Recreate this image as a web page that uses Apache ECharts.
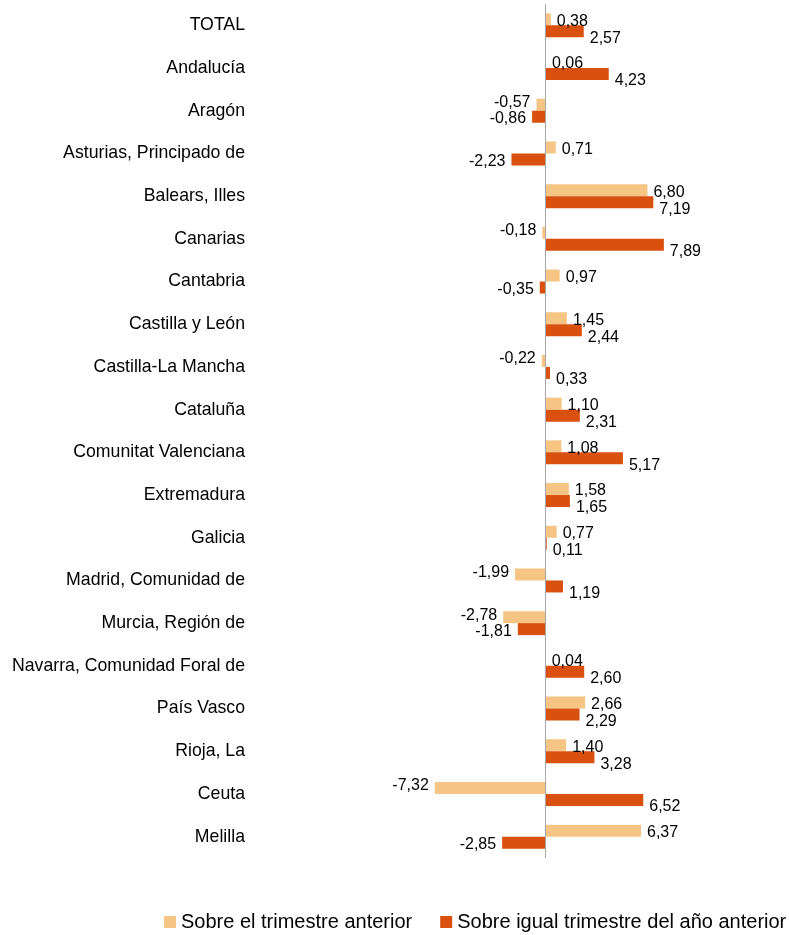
<!DOCTYPE html>
<html>
<head>
<meta charset="utf-8">
<script src="https://cdn.jsdelivr.net/npm/echarts@6/dist/echarts.min.js"></script>
<style>
  html, body { margin: 0; padding: 0; background: #fff; }
  #chart { width: 789px; height: 935px; }
</style>
</head>
<body>
<div id="chart"></div>
<script>
// categorías (de arriba abajo)
var regiones = ["TOTAL", "Andalucía", "Aragón", "Asturias, Principado de", "Balears, Illes", "Canarias",
    "Cantabria", "Castilla y León", "Castilla-La Mancha", "Cataluña", "Comunitat Valenciana",
    "Extremadura", "Galicia", "Madrid, Comunidad de", "Murcia, Región de",
    "Navarra, Comunidad Foral de", "País Vasco", "Rioja, La", "Ceuta", "Melilla"];
// variación sobre el trimestre anterior
var trimAnterior = [0.38, 0.06, -0.57, 0.71, 6.80, -0.18, 0.97, 1.45, -0.22, 1.10,
    1.08, 1.58, 0.77, -1.99, -2.78, 0.04, 2.66, 1.40, -7.32, 6.37];
// variación sobre igual trimestre del año anterior
var anioAnterior = [2.57, 4.23, -0.86, -2.23, 7.19, 7.89, -0.35, 2.44, 0.33, 2.31,
    5.17, 1.65, 0.11, 1.19, -1.81, 2.60, 2.29, 3.28, 6.52, -2.85];
var nombres = ["Sobre el trimestre anterior", "Sobre igual trimestre del año anterior"];

var colores = ["#F6C584", "#D9500F"];

function fmt(v) {
    return v.toFixed(2).replace(".", ",");
}

// etiquetas a derecha si positivo, a izquierda si negativo
function items(list, dyPos, dyNeg) {
    return list.map(function(v) {
        return {
            value: v,
            label: {
                position: v >= 0 ? "right" : "left",
                offset: [0, v >= 0 ? dyPos : dyNeg]
            }
        };
    });
}

var chart = echarts.init(document.getElementById("chart"));
chart.setOption({
    animation: false,
    color: colores,
    grid: {
        left: 274,
        right: 3,
        top: 4,
        bottom: 77,
        containLabel: false
    },
    legend: {
        data: nombres,
        left: 164,
        top: 912,
        padding: 0,
        icon: "rect",
        itemWidth: 12,
        itemHeight: 12,
        itemGap: 28,
        textStyle: {
            fontFamily: "Liberation Sans",
            fontSize: 20,
            color: "#000"
        }
    },
    xAxis: {
        type: "value",
        min: -18,
        max: 16,
        show: false
    },
    yAxis: {
        type: "category",
        data: regiones,
        inverse: true,
        axisLine: { show: false },
        axisTick: { show: false },
        axisLabel: {
            margin: 29,
            fontFamily: "Liberation Sans",
            fontSize: 17.7,
            color: "#000"
        }
    },
    series: [{
        name: nombres[0],
        type: "bar",
        barWidth: 12,
        barGap: "0%",
        data: items(trimAnterior, 2, -2),
        label: {
            show: true,
            distance: 6,
            fontFamily: "Liberation Sans",
            fontSize: 16,
            color: "#000",
            formatter: function(p) { return fmt(p.value); }
        },
        markLine: {
            silent: true,
            symbol: "none",
            label: { show: false },
            lineStyle: { color: "#A6A6A6", width: 1, type: "solid" },
            data: [{ xAxis: 0 }]
        }
    }, {
        name: nombres[1],
        type: "bar",
        barWidth: 12,
        barGap: "0%",
        data: items(anioAnterior, 7, 2),
        label: {
            show: true,
            distance: 6,
            fontFamily: "Liberation Sans",
            fontSize: 16,
            color: "#000",
            formatter: function(p) { return fmt(p.value); }
        }
    }]
});
</script>
</body>
</html>
